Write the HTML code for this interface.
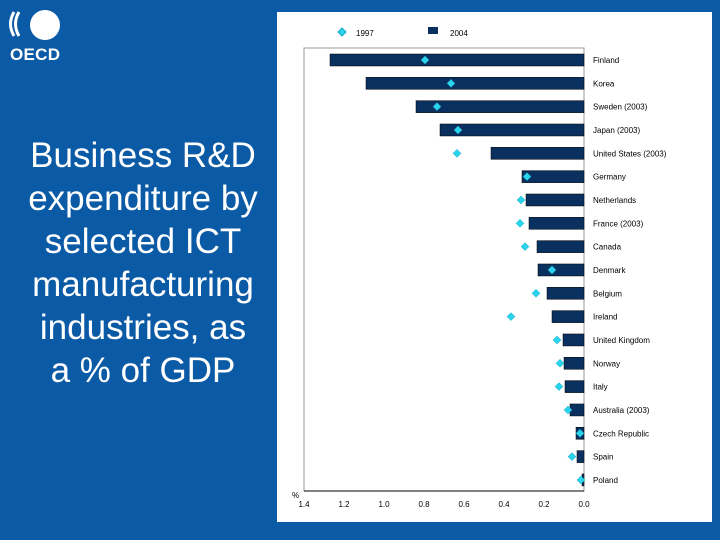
<!DOCTYPE html>
<html><head><meta charset="utf-8"><style>
body{margin:0;width:720px;height:540px;background:#0b5aa5;position:relative;overflow:hidden;font-family:"Liberation Sans",sans-serif}
#title{position:absolute;left:0px;width:286px;top:134px;color:#fff;font-size:35px;line-height:43px;text-align:center;white-space:nowrap}
#panel{position:absolute;left:277px;top:12px;width:435px;height:510px;background:#fff}
</style></head><body>
<div></div>
<svg style="position:absolute;left:8px;top:8px" width="56" height="56">
<path d="M6,4 Q-1,16 6,28" stroke="#fff" stroke-width="3" fill="none"/>
<path d="M11,4 Q4,16 11,28" stroke="#fff" stroke-width="3" fill="none"/>
<circle cx="37" cy="17" r="15" fill="#fff"/>
<text x="2" y="52" fill="#fff" font-family="Liberation Sans" font-weight="bold" font-size="17" textLength="50">OECD</text>
</svg>
<div id="title">Business R&amp;D<br>expenditure by<br>selected ICT<br>manufacturing<br>industries, as<br>a % of GDP</div>
<div id="panel"></div>
<svg id="chart" width="720" height="540" style="position:absolute;left:0;top:0" font-family="Liberation Sans"></svg>
<script>
const countries=["Finland","Korea","Sweden (2003)","Japan (2003)","United States (2003)","Germany","Netherlands","France (2003)","Canada","Denmark","Belgium","Ireland","United Kingdom","Norway","Italy","Australia (2003)","Czech Republic","Spain","Poland"];
const v2004=[1.27,1.09,0.84,0.72,0.465,0.31,0.29,0.275,0.235,0.23,0.185,0.16,0.105,0.10,0.095,0.07,0.04,0.035,0.01];
const v1997=[0.795,0.665,0.735,0.63,0.635,0.285,0.315,0.32,0.295,0.16,0.24,0.365,0.135,0.12,0.125,0.08,0.02,0.06,0.015];
const ticks=[1.4,1.2,1.0,0.8,0.6,0.4,0.2,0.0];
const NS="http://www.w3.org/2000/svg",svg=document.getElementById('chart');
const x=v=>584-v*200, y=i=>60+i*23.33;
function mk(t,a){const e=document.createElementNS(NS,t);for(const k in a)e.setAttribute(k,a[k]);svg.appendChild(e);return e;}
let e=mk('path',{d:'M304,48 H584 V491 H304 Z',fill:'none',stroke:'#999','stroke-width':1});

e=mk('line',{x1:304,y1:491,x2:584,y2:491,stroke:'#000','stroke-width':1});

ticks.forEach(t=>{const l=mk('text',{x:x(t),y:507,'font-size':8,'text-anchor':'middle',fill:'#000'});l.textContent=t.toFixed(1);
});
e=mk('text',{x:292,y:498,'font-size':8,fill:'#000'});e.textContent='%';

countries.forEach((c,i)=>{
 const b=mk('rect',{x:x(v2004[i]),y:y(i)-6,width:x(0)-x(v2004[i]),height:12,fill:'#0a3060',stroke:'#000','stroke-width':0.5});
 
 const cx=x(v1997[i]),cy=y(i);
 const d=mk('path',{d:`M${cx},${cy-4} L${cx+4},${cy} L${cx},${cy+4} L${cx-4},${cy} Z`,fill:'#2ad4ec',stroke:'#1aa8c0','stroke-width':0.5});
 
 const t=mk('text',{x:593,y:y(i)+3,'font-size':8,fill:'#000'});t.textContent=c;
 
});
e=mk('path',{d:'M342,28 L346,32 L342,36 L338,32 Z',fill:'#2ad4ec',stroke:'#1aa8c0'});

e=mk('text',{x:356,y:36,'font-size':8});e.textContent='1997';

e=mk('rect',{x:428,y:27,width:10,height:7,fill:'#0a3060'});

e=mk('text',{x:450,y:36,'font-size':8});e.textContent='2004';

</script>
</body></html>
